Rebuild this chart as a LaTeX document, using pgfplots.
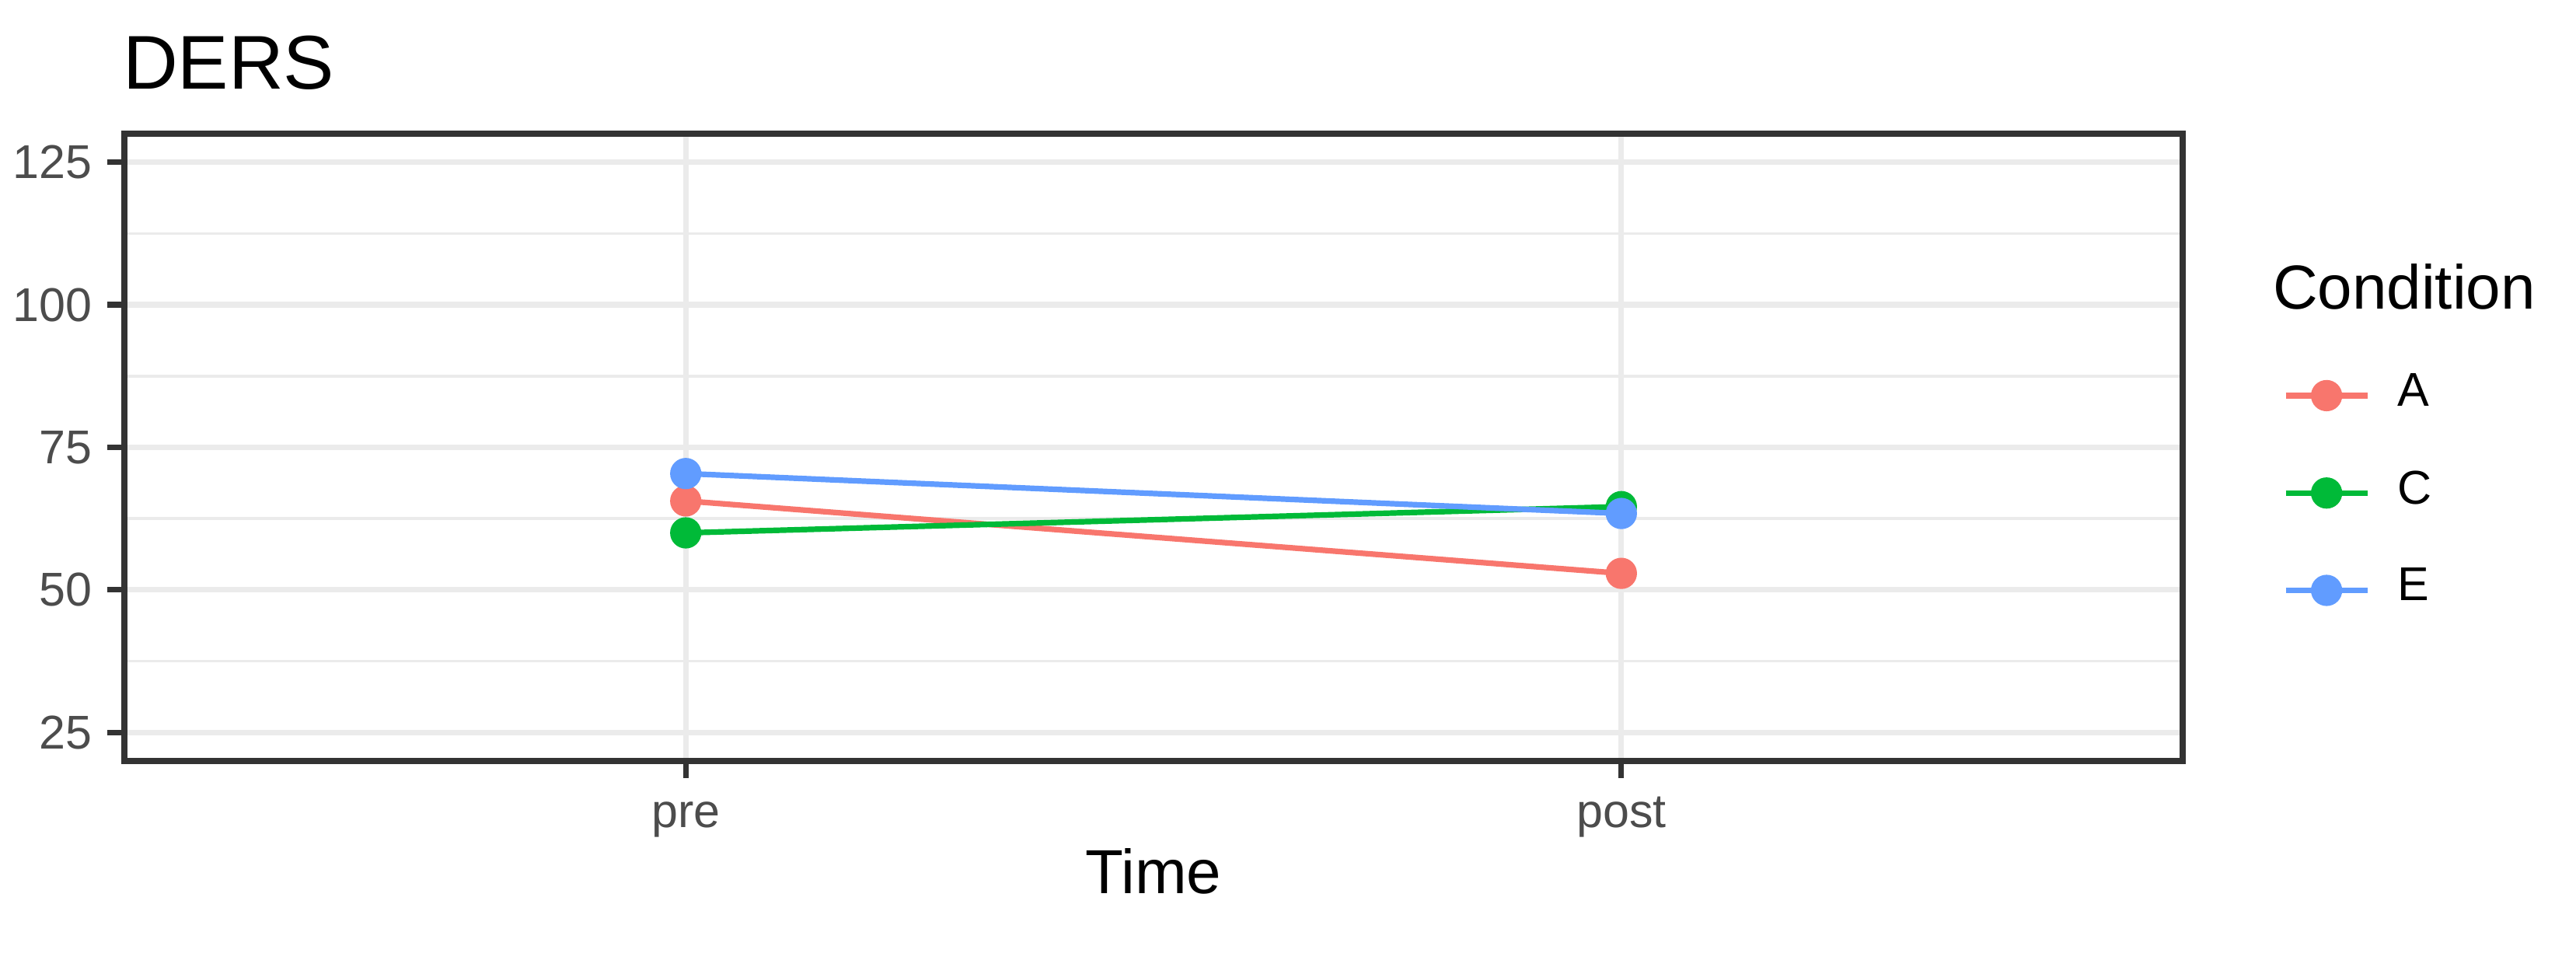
\documentclass[border=0pt]{standalone}
\usepackage{fontspec}
\setmainfont{Liberation Sans}
\usepackage{pgfplots}
\pgfplotsset{compat=1.18}
\definecolor{cA}{HTML}{F8766D}
\definecolor{cC}{HTML}{00BA38}
\definecolor{cE}{HTML}{619CFF}
\definecolor{grid92}{gray}{0.92}
\definecolor{g20}{gray}{0.2}
\definecolor{g30}{gray}{0.3}
\begin{document}
\begin{tikzpicture}
\path[use as bounding box] (-16pt,-24.7pt) rectangle (315.4pt,97.9pt);
\begin{axis}[
  name=ax,
  at={(0,0)}, anchor=south west,
  scale only axis, width=264.8pt, height=80.7pt,
  xmin=-0.6, xmax=1.6, ymin=20, ymax=130,
  xtick={0,1}, xticklabels={pre,post},
  ytick={25,50,75,100,125},
  minor ytick={37.5,62.5,87.5,112.5},
  xmajorgrids, ymajorgrids, yminorgrids,
  major grid style={grid92, line width=0.72pt},
  minor grid style={grid92, line width=0.36pt},
  axis line style={g20, line width=0.72pt},
  tick style={g20, line width=0.72pt},
  major tick length=2.2pt, minor tick length=0pt,
  tick align=outside, tick pos=left,
  ticklabel style={font=\fontsize{6.1}{7}\selectfont, text=g30},
  /pgf/number format/assume math mode=true,
  yticklabel style={inner sep=0pt, anchor=east, xshift=-1.8pt},
  xticklabel style={inner sep=0pt, anchor=north, text height=4.3pt, text depth=0pt, yshift=-1.9pt},
  xlabel={Time},
  xlabel style={at={(rel axis cs:0.5,0)}, anchor=base, inner sep=0pt, yshift=-17.1pt, font=\fontsize{8}{9.6}\selectfont},
  legend style={at={(rel axis cs:1,1)}, anchor=north west, xshift=12.7pt, yshift=-30.65pt,
    draw=none, fill=none, inner sep=0pt, row sep=6.8pt, column sep=3.5pt,
    font=\fontsize{6.1}{7}\selectfont, nodes={inner sep=0pt}},
  legend cell align=left,
  legend image code/.code={\draw[mark repeat=2,mark phase=2] plot coordinates {(0pt,0pt) (5.25pt,0pt) (10.5pt,0pt)};},
  every axis plot/.append style={line width=0.72pt, mark=*, mark size=1.65pt},
]
\addplot[cA, mark options={fill=cA, draw=none}] coordinates {(0,65.6) (1,52.9)};
\addlegendentry{A}
\addplot[cC, mark options={fill=cC, draw=none}] coordinates {(0,60.0) (1,64.6)};
\addlegendentry{C}
\addplot[cE, mark options={fill=cE, draw=none}] coordinates {(0,70.4) (1,63.4)};
\addlegendentry{E}
\end{axis}
\node[anchor=base west, inner sep=0pt, font=\fontsize{9.8}{11}\selectfont, xshift=-0.4pt, yshift=5.7pt] at (ax.north west) {DERS};
\node[anchor=base west, inner sep=0pt, font=\fontsize{8}{9.6}\selectfont, xshift=11.4pt, yshift=-22.6pt] at (ax.north east) {Condition};
\end{tikzpicture}
\end{document}
